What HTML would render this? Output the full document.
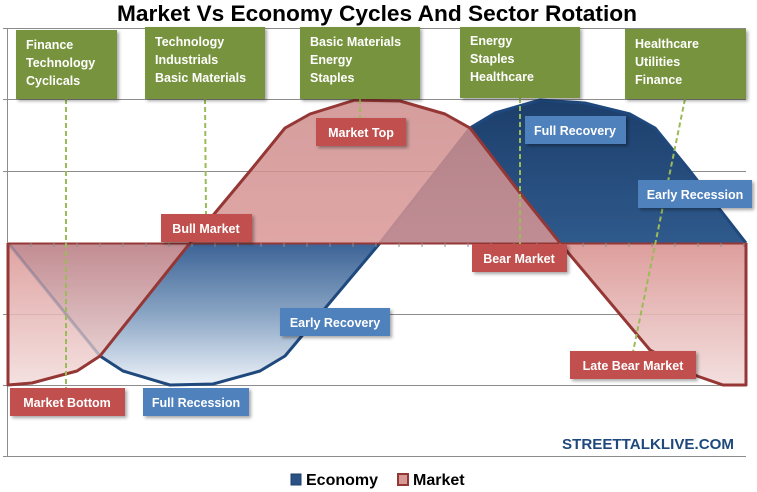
<!DOCTYPE html>
<html><head><meta charset="utf-8"><style>
html,body{margin:0;padding:0;background:#fff;}
svg{display:block;}
text{font-family:"Liberation Sans",sans-serif;}
</style></head><body>
<svg width="757" height="492" viewBox="0 0 757 492" xmlns="http://www.w3.org/2000/svg">
<defs>
<linearGradient id="mUp" x1="0" y1="0" x2="0" y2="1"><stop offset="0" stop-color="#cd8d8c"/><stop offset="1" stop-color="#d99695"/></linearGradient>
<linearGradient id="mDn" x1="0" y1="0" x2="0" y2="1"><stop offset="0" stop-color="#d99391"/><stop offset="1" stop-color="#f2dcdb"/></linearGradient>
<linearGradient id="eUp" x1="0" y1="0" x2="0" y2="1"><stop offset="0" stop-color="#1c3e6b"/><stop offset="1" stop-color="#2f5a8c"/></linearGradient>
<linearGradient id="eDn" x1="0" y1="0" x2="0" y2="1"><stop offset="0" stop-color="#3c6396"/><stop offset="0.5" stop-color="#8aa5c4"/><stop offset="1" stop-color="#eef3f9"/></linearGradient>
<filter id="sh" x="-10%" y="-10%" width="130%" height="140%"><feDropShadow dx="2" dy="2" stdDeviation="1.5" flood-color="#000" flood-opacity="0.35"/></filter>
</defs>
<g stroke="#8c8c8c" stroke-width="1">
<line x1="3" y1="28.5" x2="746" y2="28.5"/>
<line x1="3" y1="99.5" x2="746" y2="99.5"/>
<line x1="3" y1="171.5" x2="746" y2="171.5"/>
<line x1="3" y1="314.5" x2="746" y2="314.5"/>
<line x1="3" y1="385.5" x2="746" y2="385.5"/>
<line x1="3" y1="456.5" x2="746" y2="456.5"/>
<line x1="7.5" y1="28" x2="7.5" y2="457"/>
</g>
<polygon points="8,243 100,356 123,371 170,385 213,384 260,371 285,356 380,243" fill="url(#eDn)"/>
<polygon points="380,243 470,128 495,113 540,100 585,103 630,114 655,128 690,171 746,243" fill="url(#eUp)"/>
<polyline points="100,356 123,371 170,385 213,384 260,371 285,356 380,243 470,128 495,113 540,100 585,103 630,114 655,128 690,171 746,243" fill="none" stroke="#1f497d" stroke-width="3" stroke-linejoin="round"/>
<polygon points="8,243 8,385 32,383 77,371 100,356 190,243" fill="url(#mDn)" opacity="0.85"/>
<polygon points="190,243 250,171 285,128 310,114 355,100 400,101 445,114 470,128 520,193 560,243" fill="url(#mUp)" opacity="0.85"/>
<polygon points="560,243 650,350 697,376 723,385 746,385 746,243" fill="url(#mDn)" opacity="0.9"/>
<line x1="8" y1="243" x2="100" y2="356" stroke="#1f497d" stroke-width="3" opacity="0.25"/>
<polyline points="8,243 8,385 32,383 77,371 100,356 190,243 250,171 285,128 310,114 355,100 400,101 445,114 470,128 520,193 560,243 650,350 697,376 723,385 746,385 746,243" fill="none" stroke="#953735" stroke-width="3" stroke-linejoin="round"/>
<line x1="8" y1="243.5" x2="746" y2="243.5" stroke="#953735" stroke-width="2"/>
<g stroke="#8c8c8c" stroke-width="1">
<path d="M31,243v4M54,243v4M77,243v4M100,243v4M123,243v4M146,243v4M169,243v4M192,243v4M215,243v4M238,243v4M261,243v4M284,243v4M307,243v4M330,243v4M353,243v4M376,243v4M399,243v4M422,243v4M445,243v4M468,243v4M491,243v4M514,243v4M537,243v4M560,243v4M583,243v4M606,243v4M629,243v4M652,243v4M675,243v4M698,243v4M721,243v4M744,243v4"/>
</g>
<g stroke="#9bbb59" stroke-width="2" stroke-dasharray="5,3" fill="none">
<line x1="66" y1="99" x2="66" y2="390"/>
<line x1="205" y1="99" x2="206" y2="216"/>
<line x1="360" y1="99" x2="360" y2="118"/>
<line x1="520" y1="98" x2="520" y2="244"/>
<line x1="685" y1="99" x2="633" y2="352"/>
</g>
<g fill="#77933c" filter="url(#sh)">
<rect x="16" y="30" width="101" height="69"/>
<rect x="145" y="27" width="120" height="72"/>
<rect x="300" y="27" width="120" height="72"/>
<rect x="460" y="27" width="120" height="71"/>
<rect x="625" y="29" width="121" height="70"/>
</g>
<g fill="#fff" font-size="12.5" font-weight="bold">
<text x="26" y="49">Finance</text><text x="26" y="67">Technology</text><text x="26" y="85">Cyclicals</text>
<text x="155" y="46">Technology</text><text x="155" y="64">Industrials</text><text x="155" y="82">Basic Materials</text>
<text x="310" y="46">Basic Materials</text><text x="310" y="64">Energy</text><text x="310" y="82">Staples</text>
<text x="470" y="45">Energy</text><text x="470" y="63">Staples</text><text x="470" y="81">Healthcare</text>
<text x="635" y="48">Healthcare</text><text x="635" y="66">Utilities</text><text x="635" y="84">Finance</text>
</g>
<g fill="#c0504d" filter="url(#sh)">
<rect x="316" y="118" width="90" height="28"/>
<rect x="161" y="214" width="91" height="28"/>
<rect x="472" y="244" width="95" height="28"/>
<rect x="570" y="351" width="126" height="28"/>
<rect x="10" y="388" width="115" height="28"/>
</g>
<g fill="#4f81bd" filter="url(#sh)">
<rect x="525" y="116" width="101" height="28"/>
<rect x="638" y="180" width="114" height="28"/>
<rect x="280" y="308" width="110" height="28"/>
<rect x="143" y="388" width="106" height="28"/>
</g>
<g fill="#fff" font-size="12.5" font-weight="bold" text-anchor="middle">
<text x="361" y="137">Market Top</text>
<text x="206" y="233">Bull Market</text>
<text x="519" y="263">Bear Market</text>
<text x="633" y="370">Late Bear Market</text>
<text x="67" y="407">Market Bottom</text>
<text x="575" y="135">Full Recovery</text>
<text x="695" y="199">Early Recession</text>
<text x="335" y="327">Early Recovery</text>
<text x="196" y="407">Full Recession</text>
</g>
<text x="377" y="21" text-anchor="middle" font-size="22" font-weight="bold" fill="#000" textLength="520" lengthAdjust="spacingAndGlyphs">Market Vs Economy Cycles And Sector Rotation</text>
<text x="648" y="449" text-anchor="middle" font-size="15" font-weight="bold" fill="#1f497d" textLength="172" lengthAdjust="spacingAndGlyphs">STREETTALKLIVE.COM</text>
<rect x="291" y="474" width="10" height="11" fill="#2a5285" stroke="#1f3f6a"/>
<text x="306" y="485" font-size="16" font-weight="bold" fill="#000">Economy</text>
<rect x="398" y="474" width="10" height="11" fill="#d79896" stroke="#953735" stroke-width="2"/>
<text x="413" y="485" font-size="16" font-weight="bold" fill="#000">Market</text>
</svg>
</body></html>
